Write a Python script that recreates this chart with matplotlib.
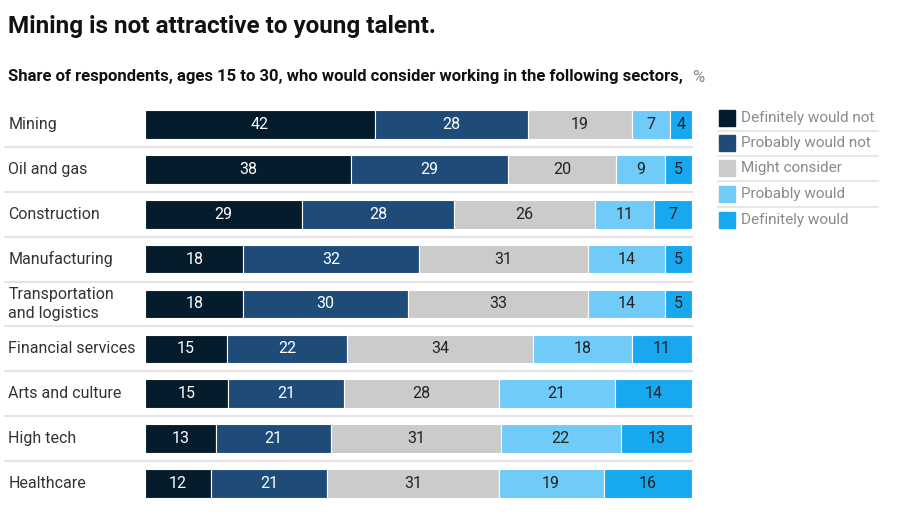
import matplotlib.pyplot as plt
from matplotlib.patches import Rectangle

plt.rcParams['font.family'] = ['Roboto', 'DejaVu Sans']

sectors = ['Mining', 'Oil and gas', 'Construction', 'Manufacturing',
           'Transportation\nand logistics', 'Financial services',
           'Arts and culture', 'High tech', 'Healthcare']
answers = ['Definitely would not', 'Probably would not', 'Might consider',
           'Probably would', 'Definitely would']
definitely_not = [42, 38, 29, 18, 18, 15, 15, 13, 12]
probably_not = [28, 29, 28, 32, 30, 22, 21, 21, 21]
might = [19, 20, 26, 31, 33, 34, 28, 31, 31]
probably = [7, 9, 11, 14, 14, 18, 21, 22, 19]
definitely = [4, 5, 7, 5, 5, 11, 14, 13, 16]

series = [definitely_not, probably_not, might, probably, definitely]
colors = ['#051c2c', '#1f4b78', '#cbcbcb', '#71cbf8', '#17a8f0']
text_colors = ['white', 'white', '#222222', '#222222', '#222222']

fig = plt.figure(figsize=(8.98, 5.17), dpi=100)
W, H = 898, 517
ax = fig.add_axes([145 / W, 1 - 506 / H, 547 / W, (506 - 102) / H])

rows = list(range(len(sectors)))
# rows don't always add up to exactly 100 -> stretch each row to full width
totals = [sum(s[r] for s in series) for r in rows]
left = [0.0] * len(sectors)
for vals, col, tc in zip(series, colors, text_colors):
    widths = [vals[r] * 100 / totals[r] for r in rows]
    ax.barh(rows, widths, left=left, height=0.64, color=col,
            edgecolor='white', linewidth=0.8)
    for r in rows:
        ax.text(left[r] + widths[r] / 2, r, str(vals[r]), ha='center', va='center',
                fontsize=11.5, color=tc)
    left = [a + b for a, b in zip(left, widths)]

ax.set_xlim(0, 100)
ax.set_ylim(8.5, -0.5)
ax.axis('off')

# row labels and separators
for r, name in enumerate(sectors):
    ax.text(-25.0, r, name, ha='left', va='center', fontsize=11.5, color='#333333',
            linespacing=1.35)
    if r < len(sectors) - 1:
        ax.plot([-25.6, 100], [r + 0.5, r + 0.5], color='#e3e3e3', lw=1.5,
                clip_on=False)

# title
fig.text(8 / W, 1 - 27 / H, 'Mining is not attractive to young talent.',
         fontsize=17.5, fontweight='bold', color='#111111', va='center')
fig.text(8 / W, 1 - 77 / H,
         'Share of respondents, ages 15 to 30, who would consider working in the following sectors,',
         fontsize=12, fontweight='bold', color='#111111', va='center')
fig.text(692 / W, 1 - 77 / H, '%', fontsize=12, color='#888888', va='center')

# legend
leg_y = [118, 143, 168, 194, 220]
for i, (lab, col) in enumerate(zip(answers, colors)):
    y = leg_y[i]
    fig.patches.append(Rectangle((719 / W, 1 - (y + 8) / H), 16 / W, 16 / H,
                                 color=col, transform=fig.transFigure))
    fig.text(741 / W, 1 - y / H, lab, fontsize=11, color='#8a8a8a', va='center')
    if i < len(answers) - 1:
        fig.add_artist(plt.Line2D([718 / W, 878 / W],
                                  [1 - (y + 13) / H, 1 - (y + 13) / H],
                                  color='#e3e3e3', lw=1.2))

fig.savefig('out.png', dpi=100, facecolor='white')
